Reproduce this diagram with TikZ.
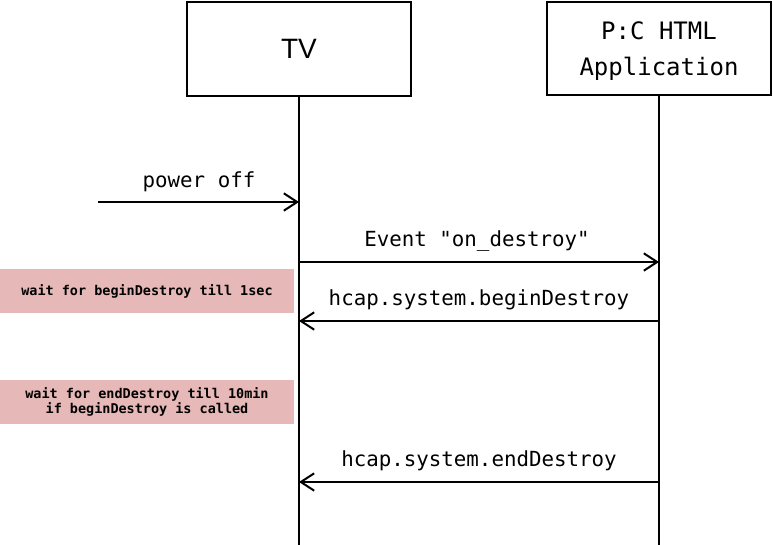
\documentclass[tikz,border=0pt]{standalone}
\usepackage{fontspec}
\setmainfont{Liberation Sans}
\newfontfamily\monof{DejaVu Sans Mono}
\usetikzlibrary{arrows.meta}
\tikzset{
  px/.style={x=0.75pt,y=-0.75pt},
  actor/.style={draw,line width=1.5pt,minimum width=168pt,inner sep=0pt,align=center},
  life/.style={line width=1.5pt},
  msg/.style={line width=1.5pt,-{Straight Barb[length=10pt,width=13pt,line width=1.5pt]}},
  lbl/.style={font=\monof\fontsize{15.6pt}{18pt}\selectfont,inner sep=0pt},
  note/.style={fill=noteC,minimum width=220.5pt,minimum height=33pt,inner sep=0pt,align=center,font=\monof\bfseries\fontsize{10.1pt}{12pt}\selectfont}
}
\definecolor{noteC}{HTML}{E6B8B7}
\begin{document}
\begin{tikzpicture}[px]
\useasboundingbox (0,0) rectangle (773,545);
\node[actor,minimum height=70.5pt,font=\fontsize{21pt}{24pt}\selectfont] (tv) at (299,49) {TV};
\node[actor,minimum height=69.75pt,font=\monof\fontsize{18pt}{26.5pt}\selectfont,text depth=0pt] (app) at (659,48.5) {P:C HTML\\Application};
\coordinate (tvend) at (299,545);
\coordinate (append) at (659,545);
\draw[life] (tv.south) -- (tvend);
\draw[life] (app.south) -- (append);
\coordinate (src) at (98,202);
\coordinate (tv1) at (299,202);
\coordinate (tv2) at (299,262);
\coordinate (app2) at (659,262);
\coordinate (app3) at (659,321);
\coordinate (tv3) at (299,321);
\coordinate (app4) at (659,482);
\coordinate (tv4) at (299,482);
\draw[msg] (src) -- (tv1);
\node[lbl] (l1) at (199,181.5) {power off};
\draw[msg] (tv2) -- (app2);
\node[lbl] (l2) at (477,241.5) {Event "on\_destroy"};
\draw[msg] (app3) -- (tv3);
\node[lbl] (l3) at (479,299.5) {hcap.system.beginDestroy};
\draw[msg] (app4) -- (tv4);
\node[lbl] (l4) at (479,460.5) {hcap.system.endDestroy};
\node[note] (n1) at (147,291) {wait for beginDestroy till 1sec};
\node[note] (n2) at (147,402) {wait for endDestroy till 10min\\[-1pt]if beginDestroy is called};
\end{tikzpicture}
\end{document}
